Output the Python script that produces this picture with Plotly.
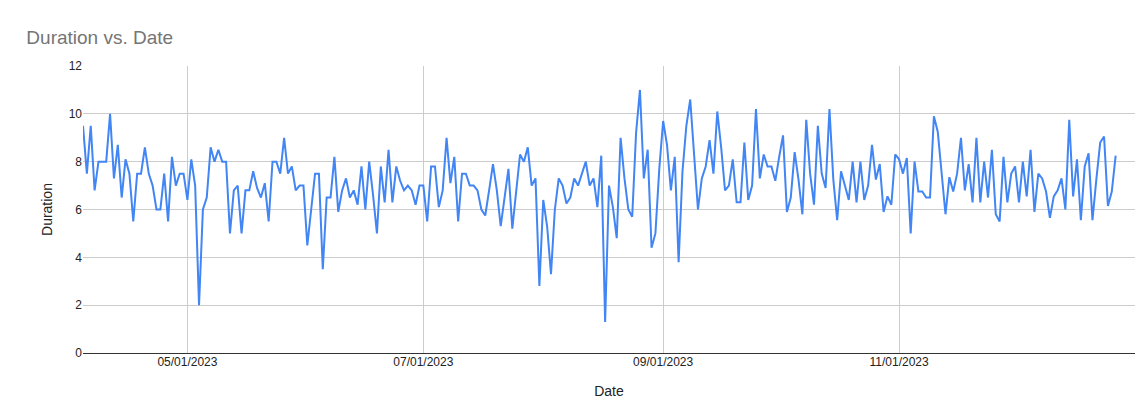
import pandas as pd
import plotly.graph_objects as go

# daily values, starting 2023-04-04
start_date = "2023-04-04"
duration = [
    9.5, 7.5, 9.5, 6.8, 8, 8, 8, 10, 7.3, 8.7, 6.5, 8.1, 7.5, 5.5, 7.5, 7.5, 8.6, 7.5, 7, 6, 6,
    7.5, 5.5, 8.2, 7, 7.5, 7.5, 6.4, 8.1, 7, 2, 6, 6.5, 8.6, 8, 8.5, 8, 8, 5, 6.8, 7, 5, 6.8,
    6.8, 7.6, 6.9,
    6.5, 7.1, 5.5, 8, 8, 7.5, 9, 7.5, 7.8, 6.8, 7, 7, 4.5, 6, 7.5, 7.5, 3.5, 6.5, 6.5, 8.2,
    5.9, 6.8, 7.3, 6.5, 6.8, 6.2, 7.8, 6, 8, 6.6, 5, 7.8, 6.3, 8.5, 6.3, 7.8, 7.2, 6.8, 7,
    6.8, 6.2, 7, 7, 5.5, 7.8,
    7.8, 6.1, 6.8, 9, 7.1, 8.2, 5.5, 7.5, 7.5, 7, 7, 6.8, 6, 5.75, 6.8, 7.9, 6.8, 5.3, 6.5,
    7.7, 5.2, 6.8, 8.3, 8, 8.6, 7, 7.3, 2.8, 6.4, 5.3, 3.3, 6, 7.3, 7, 6.25, 6.5, 7.3, 7,
    7.5, 8, 7, 7.3, 6.1, 8.25, 1.3,
    7.0, 6.1, 4.8, 9, 7.3, 6, 5.7, 9.2, 11, 7.3, 8.5, 4.4, 5, 7.7, 9.7, 8.7, 6.8, 8.2, 3.8,
    7.6, 9.5, 10.6, 8.4, 6, 7.3, 7.8, 8.9, 7.5, 10.1, 8.6, 6.8, 7, 8.1, 6.3, 6.3, 8.8, 6.4,
    7, 10.2, 7.3, 8.3, 7.8, 7.8, 7.2, 8.2, 9.1,
    5.9, 6.5, 8.4, 7.25, 5.8, 9.75, 7.5, 6.2, 9.5, 7.5, 6.9, 10.2, 7.25, 5.55, 7.6, 7, 6.4,
    8, 6.3, 8, 6.4, 7, 8.7, 7.25, 7.9, 5.9, 6.55, 6.2, 8.3, 8.1, 7.5, 8.15, 5, 8, 6.75,
    6.75, 6.5, 6.5, 9.9, 9.25, 7.5, 5.8, 7.35, 6.75,
    7.5, 9, 6.8, 7.9, 6.3, 9, 6.3, 8, 6.5, 8.5, 5.8, 5.5, 8.2, 6.3, 7.5, 7.8, 6.3, 8, 6.55,
    8.5, 5.9, 7.5, 7.3, 6.75, 5.65, 6.55, 6.8, 7.3, 6, 9.75, 6.55, 8.1, 5.55, 7.8, 8.35,
    5.55, 7.25, 8.8, 9.05, 6.15, 6.75, 8.25,
]
dates = pd.date_range(start_date, periods=len(duration), freq="D")

tick_dates = ["2023-05-01", "2023-07-01", "2023-09-01", "2023-11-01"]

fig = go.Figure(go.Scatter(x=dates, y=duration, mode="lines",
                           line=dict(color="#4285F4", width=2)))

fig.update_layout(
    width=1147, height=413,
    margin=dict(l=75, r=20, t=58, b=68, autoexpand=False),
    paper_bgcolor="white", plot_bgcolor="white",
    font=dict(family="Liberation Sans, Arial", size=12, color="#222"),
    title=dict(text="Duration vs. Date", x=0.016, y=0.93, xanchor="left", yanchor="middle",
               font=dict(size=19, color="#757575")),
    showlegend=False,
    xaxis=dict(title=dict(text="Date", standoff=18), automargin=False,
               range=[dates[0], pd.Timestamp("2024-01-01")],
               tickvals=tick_dates, tickformat="%m/%d/%Y",
               showgrid=True, gridcolor="#cccccc", zeroline=False,
               showline=False, ticks=""),
    yaxis=dict(title=dict(text="Duration", standoff=12), automargin=False,
               range=[0, 12], dtick=2, showgrid=True, gridcolor="#cccccc",
               zeroline=True, zerolinecolor="#333333", zerolinewidth=1,
               ticks=""),
)

fig.write_html("out.html")
